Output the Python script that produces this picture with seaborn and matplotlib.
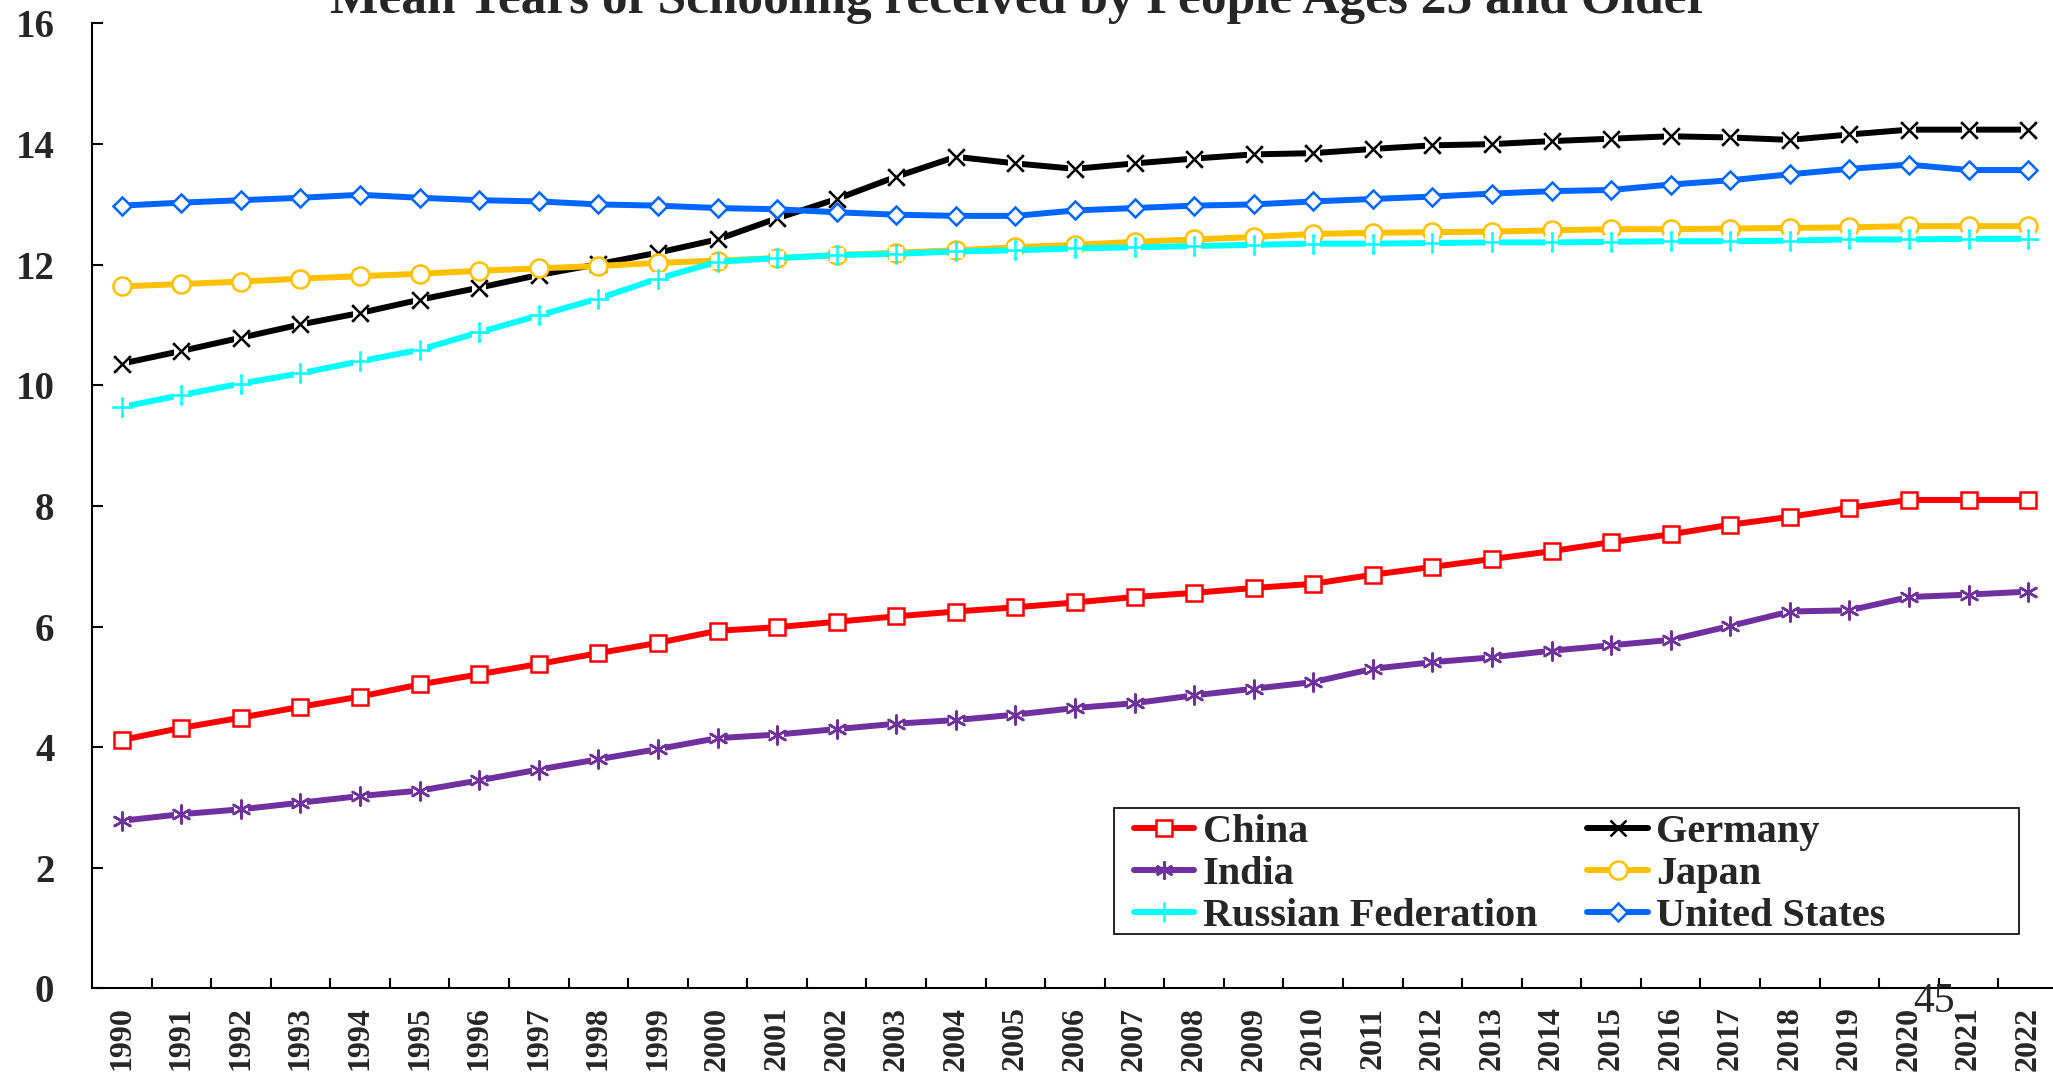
import numpy as np
import pandas as pd
import matplotlib
matplotlib.use("Agg")
import matplotlib.pyplot as plt
import seaborn as sns
from matplotlib.patches import Rectangle

# data
years = list(range(1990, 2023))
china = [4.12, 4.32, 4.49, 4.67, 4.84, 5.04, 5.21, 5.38, 5.56, 5.73, 5.93, 5.99, 6.08, 6.17, 6.25, 6.32,
         6.40, 6.49, 6.56, 6.64, 6.71, 6.86, 6.99, 7.12, 7.25, 7.40, 7.53, 7.69, 7.82, 7.97, 8.10, 8.10, 8.10]
india = [2.78, 2.89, 2.97, 3.08, 3.19, 3.28, 3.45, 3.63, 3.80, 3.97, 4.15, 4.21, 4.30, 4.39, 4.45, 4.54,
         4.65, 4.73, 4.86, 4.97, 5.08, 5.30, 5.41, 5.49, 5.60, 5.69, 5.78, 6.01, 6.25, 6.27, 6.49, 6.53, 6.58]
germany = [10.36, 10.57, 10.79, 11.01, 11.20, 11.42, 11.62, 11.83, 12.01, 12.20, 12.42, 12.77, 13.09, 13.46,
           13.79, 13.68, 13.59, 13.68, 13.76, 13.83, 13.85, 13.92, 13.98, 14.00, 14.05, 14.09, 14.13, 14.11,
           14.07, 14.16, 14.24, 14.24, 14.24]
japan = [11.64, 11.68, 11.72, 11.77, 11.81, 11.85, 11.90, 11.94, 11.98, 12.03, 12.07, 12.11, 12.16, 12.20,
         12.24, 12.29, 12.33, 12.38, 12.42, 12.46, 12.51, 12.53, 12.54, 12.55, 12.57, 12.59, 12.59, 12.60,
         12.61, 12.62, 12.64, 12.64, 12.64]
russia = [9.64, 9.84, 10.03, 10.20, 10.40, 10.59, 10.88, 11.16, 11.44, 11.77, 12.05, 12.11, 12.16, 12.18,
          12.22, 12.24, 12.27, 12.29, 12.31, 12.33, 12.35, 12.35, 12.36, 12.37, 12.37, 12.38, 12.39, 12.39,
          12.40, 12.42, 12.42, 12.43, 12.43]
usa = [12.98, 13.03, 13.07, 13.11, 13.16, 13.11, 13.07, 13.05, 13.00, 12.98, 12.94, 12.92, 12.87, 12.83,
       12.81, 12.81, 12.90, 12.94, 12.98, 13.00, 13.05, 13.09, 13.13, 13.18, 13.22, 13.24, 13.33, 13.40,
       13.50, 13.59, 13.66, 13.57, 13.57]

title = "Mean Years of Schooling received by People Ages 25 and Older"

sns.set_theme(style="white")
plt.rcParams['font.family'] = ['Liberation Serif', 'DejaVu Serif']
plt.rcParams['font.weight'] = 'bold'

fig = plt.figure(figsize=(20.53, 10.73), dpi=100)
ax = fig.add_axes([0.0448, 0.0788, 0.9576, 0.8993])

# name, values, colour, marker, marker size, open glyph needing a white backing
series = [
    ("China", china, "#FF0000", "s", 12, False),
    ("Germany", germany, "#000000", "x", 12, True),
    ("India", india, "#7030A0", (6, 2, 0), 13, True),
    ("Japan", japan, "#FFC000", "o", 13, False),
    ("Russian Federation", russia, "#00FFFF", "+", 14, True),
    ("United States", usa, "#0066FF", "D", 9, False),
]

for i, (name, vals, color, marker, ms, glyph) in enumerate(series):
    df = pd.DataFrame({"year": years, "value": vals})
    z = 2 + i * 0.1
    sns.lineplot(data=df, x="year", y="value", ax=ax, color=color, lw=4.3,
                 marker=marker, markersize=ms, markerfacecolor="white",
                 markeredgecolor=color, markeredgewidth=1.8, label=name,
                 errorbar=None, zorder=z)
    if glyph:
        # small white box behind the glyph breaks the line like in the original
        sns.scatterplot(data=df, x="year", y="value", ax=ax, marker="s", s=100,
                        color="white", edgecolor="none", zorder=z + 0.01, legend=False)
        sns.scatterplot(data=df, x="year", y="value", ax=ax, marker=marker, s=ms ** 2,
                        color=color, linewidths=1.8, zorder=z + 0.02, legend=False)

ax.set_xlabel("")
ax.set_ylabel("")
ax.set_xlim(1989.5, 2022.5)
ax.set_ylim(0, 16)
ax.set_yticks(np.arange(0, 17, 2))
ax.set_xticks(years)
ax.set_xticklabels([str(y) for y in years], rotation=90)
ax.set_xticks(np.arange(1990.5, 2023, 1), minor=True)
ax.tick_params(axis='x', which='major', length=0, pad=13, labelsize=23)
ax.tick_params(axis='x', which='minor', direction='in', length=7, width=1.5, color='black', bottom=True)
ax.tick_params(axis='y', direction='in', length=8, width=1.5, color='black', pad=27, labelsize=28, left=True)
for s in ['top', 'right']:
    ax.spines[s].set_visible(False)
for s in ['left', 'bottom']:
    ax.spines[s].set_color('black')
    ax.spines[s].set_linewidth(1.5)

# legend: two columns, China/India/Russia then Germany/Japan/US
handles, labels = ax.get_legend_handles_labels()
order = ["China", "India", "Russian Federation", "Germany", "Japan", "United States"]
hmap = dict(zip(labels, handles))
ax.legend([hmap[k] for k in order], order, ncol=2, loc='upper left',
          bbox_to_anchor=(0.5524, 0.2414), bbox_transform=fig.transFigure,
          frameon=False, borderpad=0, borderaxespad=0, handlelength=1.5, handletextpad=0.2,
          columnspacing=1.25, labelspacing=0.12, prop={'size': 29, 'weight': 'bold'})
fig.patches.append(Rectangle((0.5426, 0.1296), 0.4408, 0.1174, transform=fig.transFigure,
                             fill=False, edgecolor='black', linewidth=1.2))

fig.text(0.4965, 0.988, title, ha='center', va='baseline', fontsize=37, fontweight='bold')
fig.text(0.942, 0.0662, "45", ha='center', va='center', fontsize=30, fontweight='normal')

fig.savefig("out.png", dpi=100)
